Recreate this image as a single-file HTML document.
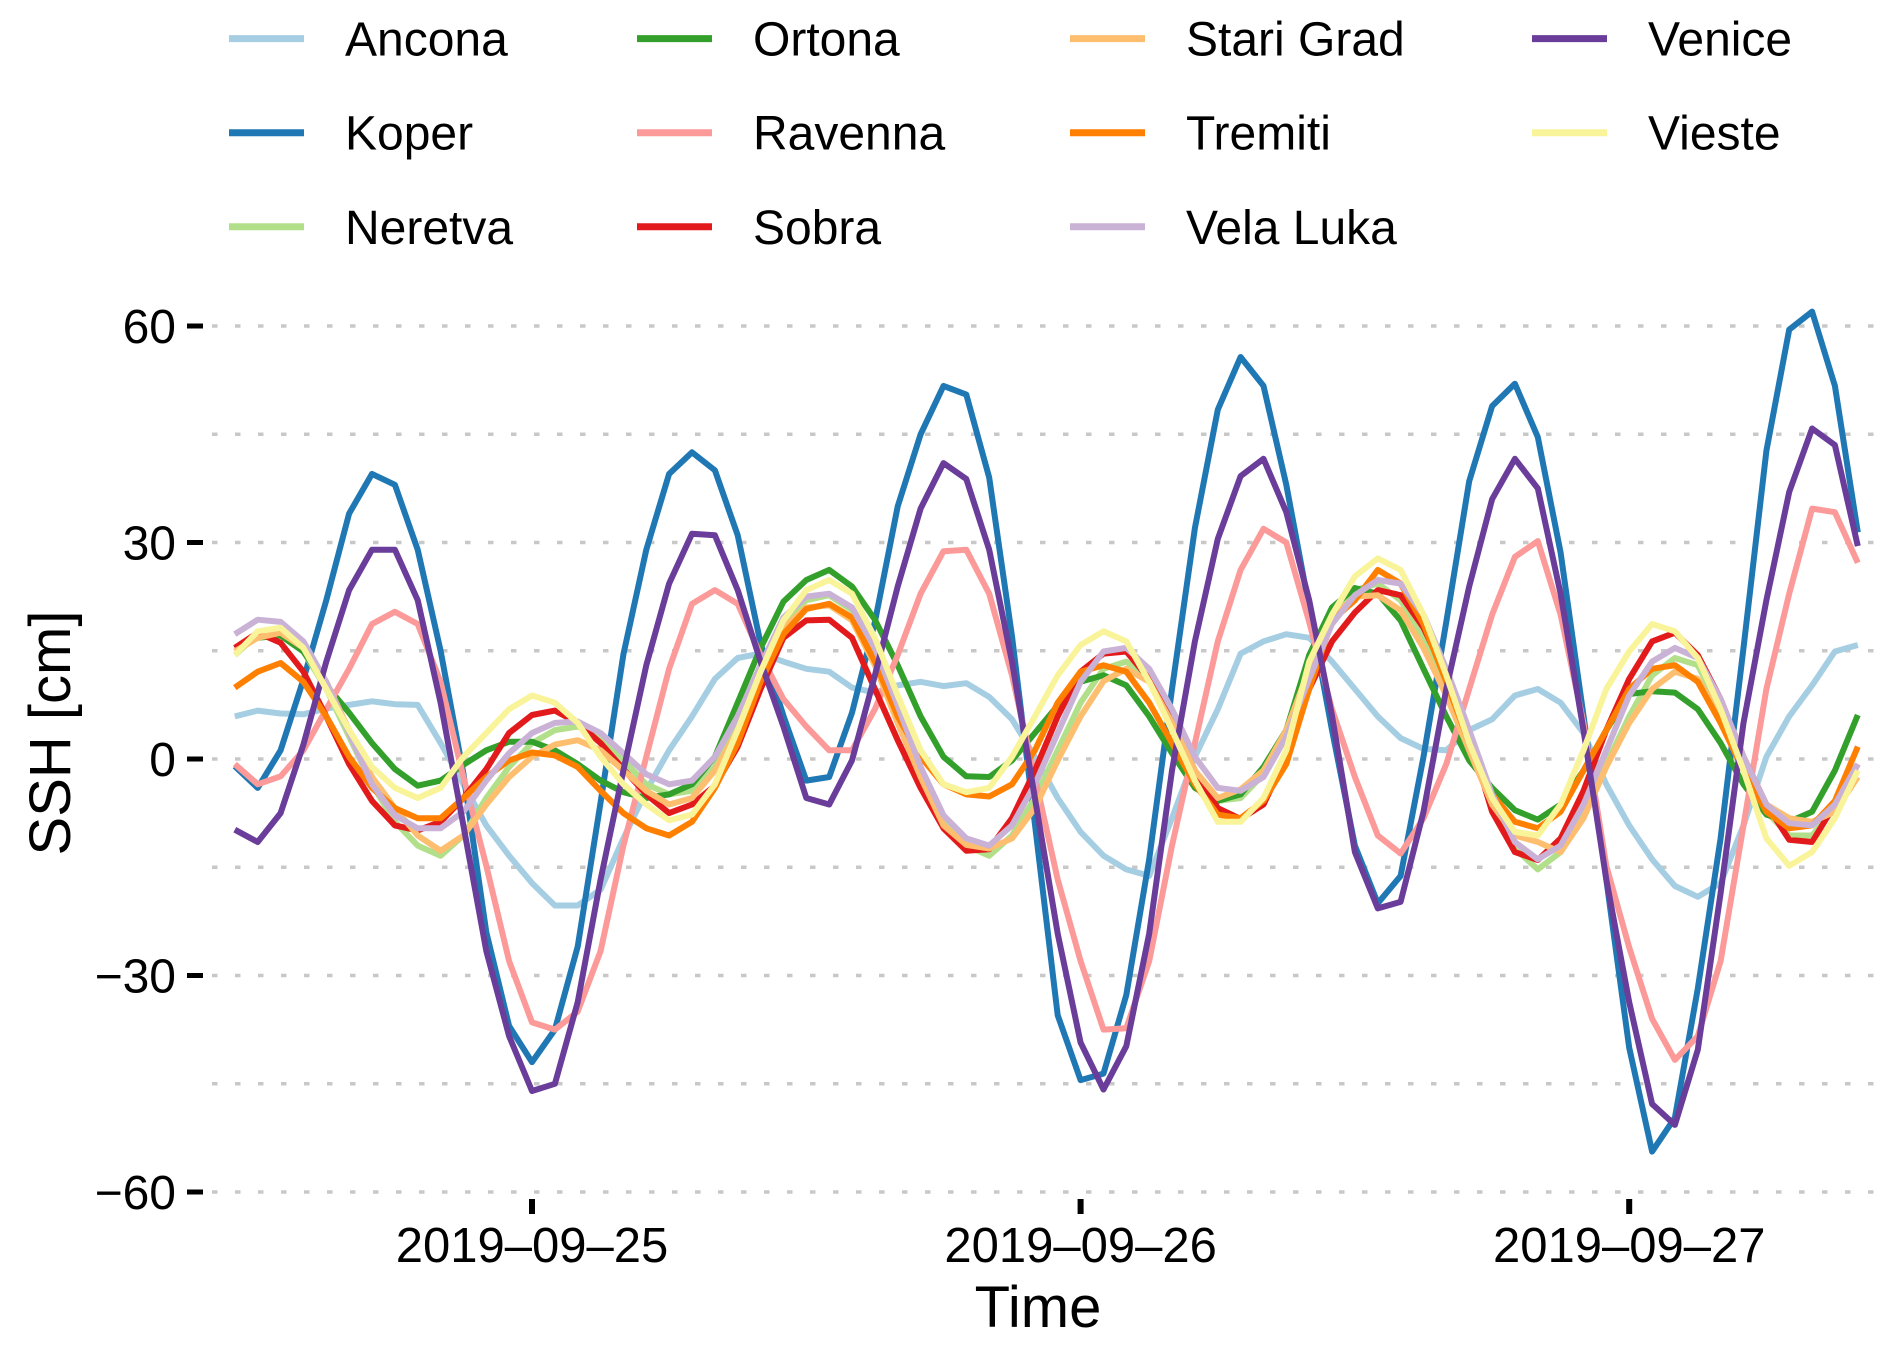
<!DOCTYPE html>
<html><head><meta charset="utf-8"><style>
html,body{margin:0;padding:0;background:#fff;}
svg{display:block;font-family:"Liberation Sans",Arial,sans-serif;}
</style></head><body>
<svg id="chart" width="1892" height="1349" viewBox="0 0 1892 1349" xmlns="http://www.w3.org/2000/svg">
<g id="grid"></g>
<g id="yaxis"></g>
<g id="xaxis"></g>
<g id="series"></g>
<g id="legend"></g>
<text x="1038" y="1327" font-size="58" text-anchor="middle" fill="#000">Time</text>
<text transform="translate(70,733) rotate(-90)" font-size="58" text-anchor="middle" fill="#000">SSH [cm]</text>
</svg>
<script>
const yTicks = [60, 30, 0, -30, -60];
const yMinor = [45, 15, -15, -45];
const yTickLabels = ["60", "30", "0", "\u221230", "\u221260"];
const xTickHours = [0, 24, 48];
const xTickLabels = ["2019\u201309\u201325", "2019\u201309\u201326", "2019\u201309\u201327"];
const startHour = -13;
const stations = ["Ancona","Koper","Neretva","Ortona","Ravenna","Sobra","Stari Grad","Tremiti","Vela Luka","Venice","Vieste"];
const colors = ["#a6cee3","#1f78b4","#b2df8a","#33a02c","#fb9a99","#e31a1c","#fdbf6f","#ff7f00","#cab2d6","#6a3d9a","#f9f49a"];
const ancona = [5.9,6.7,6.3,6.2,7,7.5,8,7.6,7.5,2.2,-3.5,-9.2,-13.4,-17.2,-20.3,-20.3,-18.1,-11,-4.4,1.2,5.9,11.1,14,14.6,13.5,12.5,12.1,9.9,9.2,10.2,10.7,10.1,10.5,8.6,5.5,0.3,-5.4,-10.1,-13.4,-15.3,-16.2,-8.2,0.3,6.9,14.6,16.3,17.3,16.8,13.5,9.7,5.9,2.9,1.4,1.2,4,5.5,8.8,9.7,7.8,3.6,-3.5,-9.2,-13.9,-17.6,-19.1,-17.2,-9.2,0.3,5.9,10.2,14.9,15.8];
const koper = [-1,-4,1.2,11,22,34,39.5,38,29,15,-2,-24,-37,-42,-37.5,-26,-6,14.5,29,39.5,42.5,40,31,16,6,-3,-2.5,6.4,19,35,45,51.7,50.5,39,17,-9,-35.5,-44.5,-43.6,-32.7,-13.9,9.7,32,48.4,55.7,51.7,38,21,4,-12,-20,-16.2,0.3,19,38.5,48.9,52,44.6,28.6,6,-16.7,-40,-54.4,-49.7,-31.8,-11,15.4,42.7,59.5,62,51.7,31.4];
const neretva = [14.4,17.3,17.7,14.9,9.7,3.1,-3.5,-8.7,-12,-13.4,-10.6,-5.4,-1.1,2.2,4,4.5,3.1,-0.2,-3.5,-4.9,-4.4,-1.1,5,12.5,19.2,22,22.7,20.6,14.4,5.9,-2.1,-8.7,-12,-13.4,-10.6,-5.4,1.2,7.8,12.5,13.5,11.1,5,-1.6,-5.8,-5.4,-2.1,4,12.5,19.6,23.4,24.3,22,16.8,9.7,1.7,-6.3,-12.4,-15.3,-12.9,-7.7,-0.7,5.9,11.6,14,13,6.9,-0.7,-7.3,-10.6,-10.6,-6.8,-1.6];
const ortona = [15.4,16.8,17.1,14.9,10.2,6.4,2.2,-1.4,-3.7,-3,-0.8,1.2,2.4,2.4,1.2,-0.7,-3,-4.6,-5.4,-4.9,-3.5,0.3,7.8,15.4,21.8,24.8,26.2,23.9,19.3,13,5.9,0.3,-2.4,-2.5,-0.2,3.6,7.4,10.7,11.6,10.2,5.9,0.8,-4,-5.8,-4.9,-1.1,4,14.4,21,23.7,22.9,19.2,12.5,5.9,-0.2,-4,-7.1,-8.4,-6.3,-1.6,4,9,9.4,9.2,6.9,2.2,-3.5,-7.7,-8.7,-7.3,-1.6,6.1];
const ravenna = [-0.7,-3.5,-2.4,1.2,6.9,12.5,18.7,20.4,18.7,10.7,-2.5,-14.8,-28,-36.5,-37.5,-35,-26.6,-12,0.3,12.5,21.5,23.4,21.5,14.4,8.3,4.5,1.2,1.2,6.9,14.4,22.9,28.8,29,22.9,11.6,-2.5,-16.7,-28,-37.5,-37.3,-28,-12,2.2,16.3,26.2,31.9,30,19,6.9,-2.5,-10.6,-13.1,-8.2,-0.7,9.7,20,28,30.2,20,5,-14.8,-26.1,-36,-41.7,-38.4,-28,-9.2,9.7,22.9,34.7,34.2,27.2];
const sobra = [15.4,17.5,16.1,12.1,5.9,-0.7,-5.8,-9.2,-9.9,-8.7,-5.4,-1.4,3.6,6.1,6.7,5,2.2,-1.4,-4.9,-7.5,-6.3,-3.7,1.7,9.7,16.8,19.2,19.3,16.8,9.7,2.6,-4,-9.6,-12.7,-12.5,-8.2,-1.6,5.9,12.1,14.6,14.9,11.1,5,-1.6,-6.8,-8.3,-6.3,0.3,9.7,16.3,20.3,23.4,22.7,18.2,11.6,3.1,-7.3,-12.9,-14,-11,-4.4,4,11.1,16.3,17.5,14.4,8.3,0.3,-6.3,-11.2,-11.5,-6.3,-0.7];
const stariGrad = [14.9,16.8,17.5,15.4,10.7,4,-2.5,-6.8,-10.6,-12.7,-10.6,-6.3,-2.5,0.3,2,2.6,1.2,-1.6,-4.4,-6.3,-5.4,-1.6,4,11.6,18.2,21,21.3,19.2,13,5,-2.5,-9.2,-11.9,-12.4,-11,-6.8,-0.2,5.9,10.8,12.5,10.7,5,-1.6,-5.4,-4.2,-1.6,4,12.5,19.6,22.5,22.7,20.6,15.4,8.8,1.2,-6.3,-10.6,-11.5,-12.9,-8.2,-1.1,5,9.7,12.1,11.1,5.9,-0.7,-6.3,-8.2,-8.7,-7.3,-2.5];
const tremiti = [9.9,12.1,13.3,10.7,5.9,0.3,-4,-6.8,-8.2,-8.2,-5.4,-2.5,-0.2,0.9,0.5,-1.1,-4.4,-7.5,-9.6,-10.6,-8.7,-4,2.2,10.7,17.3,20.8,21.5,19.6,13.5,5.9,0.3,-3.5,-4.9,-5.2,-3.5,1.2,7.8,12.1,13,12.1,7.8,2.2,-3.5,-7.7,-8.2,-5.8,-0.7,9.7,19.2,22,26.2,24.3,18.7,10.7,2.2,-4.9,-8.7,-9.6,-7.3,-1.6,4,9.7,12.5,13,10.7,5,-1.6,-7.3,-9.6,-9.2,-5.8,1.7];
const velaLuka = [17.3,19.3,19,16.3,10.7,3.6,-3.5,-7.8,-9.6,-9.6,-7.3,-3,0.8,3.6,5,5.2,3.6,0.8,-2.1,-3.5,-3,0.3,5.9,13,19.6,22.5,22.9,21,15.4,7.4,-1.1,-7.8,-11,-12,-9.2,-3.5,3.6,10.7,14.9,15.4,12.5,6.9,0.3,-4,-4.4,-2.5,3.1,11.1,18.7,22.7,24.8,24.3,20,12.5,4,-4.9,-11.5,-13.9,-12,-6.3,1.2,8.8,13.5,15.4,14,8.3,0.3,-6.3,-8.9,-9.2,-6.3,-0.7];
const venice = [-9.8,-11.5,-7.5,2,13.5,23.4,29,29,22,7.8,-9.2,-26.6,-38.4,-46,-45,-33.7,-16.7,-1.6,13,24.3,31.2,31,23.4,13.5,4.5,-5.4,-6.3,-0.2,11.6,23.9,34.7,41,38.8,29,13.5,-5.4,-24.2,-39.3,-45.8,-39.8,-24.2,-1.6,16.3,30.5,39.2,41.6,34.2,22,6,-12.9,-20.7,-19.8,-7.3,9.7,23.9,36,41.6,37.5,22.9,4,-16.7,-33.7,-47.8,-50.7,-40.3,-18.6,5,22,37,45.8,43.5,29.5];
const vieste = [14.4,17.7,18.2,15.4,9.7,4,-1.1,-4,-5.4,-4,0.3,3.6,6.9,8.8,7.8,5,0.3,-3.5,-6.3,-8.5,-7.7,-3.5,4,12.1,19.2,23.4,24.8,22.9,16.8,8.8,1.2,-3.5,-4.6,-4,0.3,5.9,11.6,15.8,17.7,16.3,10.7,4,-3,-8.7,-8.7,-5.4,1.2,13.5,20,25.3,27.8,26.2,20,11.6,2.2,-5.4,-10.1,-10.6,-6.3,1.2,9.7,14.9,18.7,17.7,14,6.9,-1.6,-11,-14.8,-12.9,-8.2,-1.6];
const seriesValues = [ancona,koper,neretva,ortona,ravenna,sobra,stariGrad,tremiti,velaLuka,venice,vieste];

const NS = "http://www.w3.org/2000/svg";
const X0 = 532, PX_PER_HOUR = 548.6/24;
const Y0 = 759, PX_PER_CM = 216.5/30;
function xScale(h){ return X0 + h*PX_PER_HOUR; }
function yScale(v){ return Y0 - v*PX_PER_CM; }
function mk(tag, attrs){ const e=document.createElementNS(NS,tag); for(const k in attrs) e.setAttribute(k,attrs[k]); return e; }

const grid=document.getElementById('grid');
yTicks.concat(yMinor).forEach(v=>{
  const l=mk('line',{x1:212,x2:1888,y1:yScale(v),y2:yScale(v),stroke:'#c8c8c8','stroke-width':3.5,'stroke-dasharray':'5.5 17.5'});
  
  
  grid.appendChild(l);
});
const ya=document.getElementById('yaxis');
yTicks.forEach((v,i)=>{
  const t=mk('rect',{x:187,y:yScale(v)-2.5,width:16,height:5,fill:'#000'});
  
  
  ya.appendChild(t);
  const tx=mk('text',{x:176,y:yScale(v)+17,'font-size':48,'text-anchor':'end',fill:'#000'});
  tx.textContent=yTickLabels[i];
  
  
  ya.appendChild(tx);
});
const xa=document.getElementById('xaxis');
xTickHours.forEach((h,i)=>{
  const t=mk('rect',{x:xScale(h)-3,y:1199,width:6,height:15,fill:'#000'});
  
  
  xa.appendChild(t);
  const tx=mk('text',{x:xScale(h),y:1262,'font-size':49,'text-anchor':'middle',fill:'#000'});
  tx.textContent=xTickLabels[i];
  
  
  xa.appendChild(tx);
});
const sg=document.getElementById('series');
seriesValues.forEach((vals,s)=>{
  const pts=vals.map((v,i)=>xScale(startHour+i).toFixed(1)+','+yScale(v).toFixed(1)).join(' ');
  const p=mk('polyline',{points:pts,fill:'none',stroke:colors[s],'stroke-width':6,'stroke-linejoin':'round'});
  
  
  sg.appendChild(p);
});
const lg=document.getElementById('legend');
const colKeyX=[229,637,1070,1532], colTextX=[345,753,1186,1648], rowY=[38.6,132.7,226.8];
stations.forEach((name,s)=>{
  const c=Math.floor(s/3), r=s%3;
  const g=mk('g',{});
  
  
  g.appendChild(mk('line',{x1:colKeyX[c],x2:colKeyX[c]+75,y1:rowY[r],y2:rowY[r],stroke:colors[s],'stroke-width':7}));
  const tx=mk('text',{x:colTextX[c],y:rowY[r]+17,'font-size':48,fill:'#000'});
  tx.textContent=name;
  g.appendChild(tx);
  lg.appendChild(g);
});
</script>
</body></html>
